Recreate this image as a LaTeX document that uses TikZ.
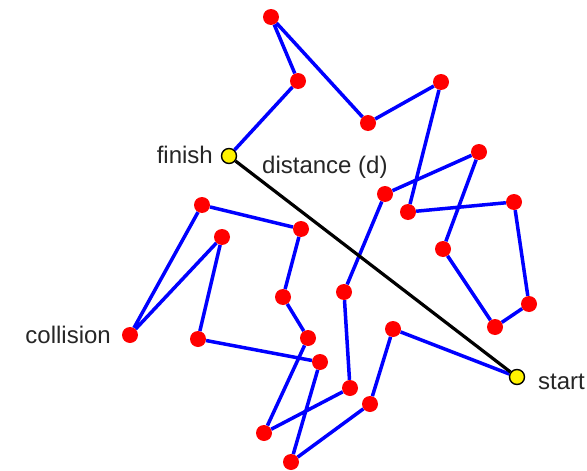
\documentclass[tikz,border=0pt]{standalone}
\usepackage{fontspec}
\setmainfont{Liberation Sans}
\begin{document}
\begin{tikzpicture}[x=1pt,y=-1pt,
  reddot/.style={circle,fill=red,draw=none,minimum size=16pt,inner sep=0pt},
  enddot/.style={circle,fill=yellow,draw=black,line width=1.4pt,minimum size=15pt,inner sep=0pt},
  walk/.style={draw=blue,line width=3.5pt},
  dline/.style={draw=black,line width=3.2pt},
  lbl/.style={inner sep=0pt,font=\fontsize{24}{28}\selectfont,text=black!85}]
\useasboundingbox (0,0) rectangle (587,471);
% dots
\node[enddot] (fin) at (229,156) {};
\node[enddot] (sta) at (517,377) {};
\node[reddot] (a1) at (298,81) {};
\node[reddot] (a2) at (271,17) {};
\node[reddot] (a3) at (368,123) {};
\node[reddot] (a4) at (441,82) {};
\node[reddot] (a5) at (408,212) {};
\node[reddot] (a6) at (514,202) {};
\node[reddot] (a7) at (529,304) {};
\node[reddot] (a8) at (495,327) {};
\node[reddot] (a9) at (443,249) {};
\node[reddot] (a10) at (479,152) {};
\node[reddot] (a11) at (385,194) {};
\node[reddot] (a12) at (344,292) {};
\node[reddot] (a13) at (350,388) {};
\node[reddot] (a14) at (264,433) {};
\node[reddot] (a15) at (308,338) {};
\node[reddot] (a16) at (283,297) {};
\node[reddot] (a17) at (301,229) {};
\node[reddot] (a18) at (202,205) {};
\node[reddot] (col) at (130,335) {};
\node[reddot] (a19) at (222,237) {};
\node[reddot] (a20) at (198,339) {};
\node[reddot] (a21) at (320,362) {};
\node[reddot] (a22) at (291,462) {};
\node[reddot] (a23) at (370,404) {};
\node[reddot] (a24) at (393,329) {};
% walk
\draw[walk] (fin) -- (a1) -- (a2) -- (a3) -- (a4) -- (a5) -- (a6) -- (a7) -- (a8)
  -- (a9) -- (a10) -- (a11) -- (a12) -- (a13) -- (a14) -- (a15) -- (a16) -- (a17)
  -- (a18) -- (col) -- (a19) -- (a20) -- (a21) -- (a22) -- (a23) -- (a24) -- (sta);
% distance
\draw[dline] (fin) -- (sta);
% labels
\node[lbl,anchor=base east] (tfin) at (213,163) {finish};
\node[lbl,anchor=base west] (tdist) at (262,173) {distance (d)};
\node[lbl,anchor=base east] (tcol) at (111,343) {collision};
\node[lbl,anchor=base west] (tsta) at (538,389) {start};
\end{tikzpicture}
\end{document}
